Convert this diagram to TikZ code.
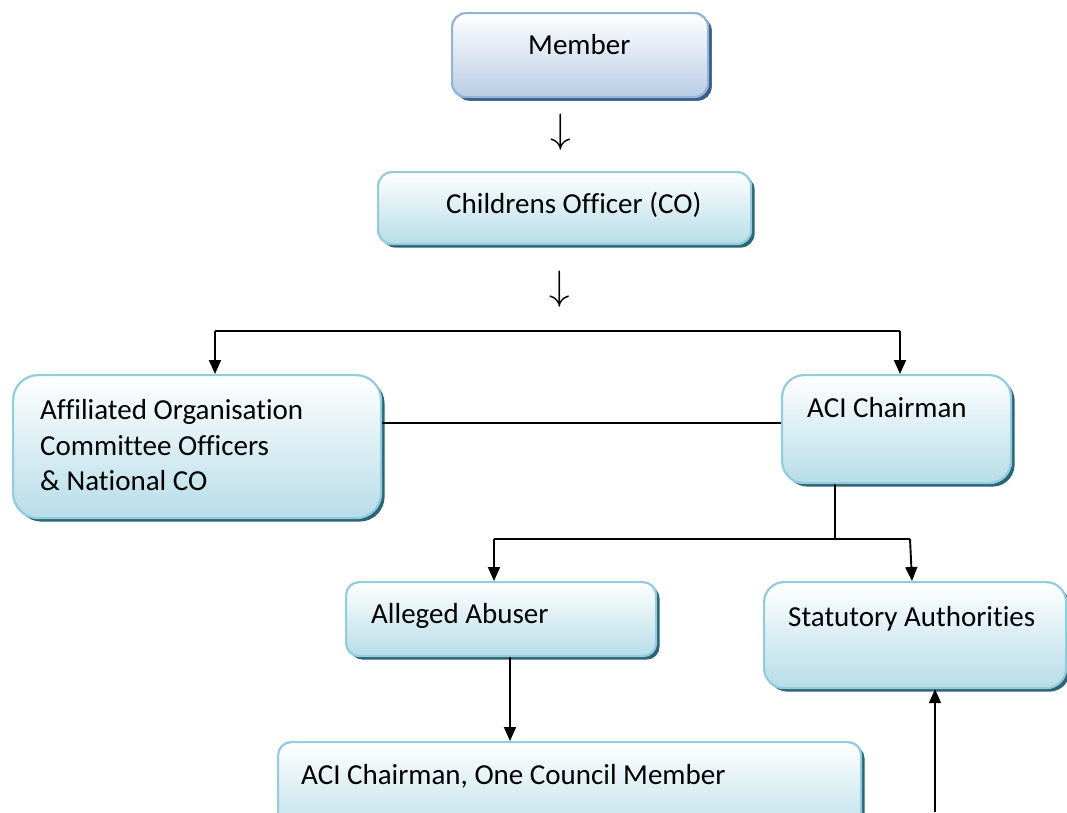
\documentclass[tikz,border=0pt]{standalone}
\usepackage{fontspec}
\setmainfont{Carlito}[Ligatures=NoCommon]
\usetikzlibrary{arrows.meta,shadows,calc}
\definecolor{bluB}{HTML}{95B3D7}
\definecolor{bluF}{HTML}{B9CDE5}
\definecolor{bluS}{HTML}{385D8A}
\definecolor{aqB}{HTML}{93CDDD}
\definecolor{aqF}{HTML}{B7DDE8}
\definecolor{aqS}{HTML}{2B6576}
\begin{document}
\begin{tikzpicture}[x=1pt,y=-1pt,
  box/.style={draw=aqB, line width=2.2pt, top color=white, bottom color=aqF,
    anchor=north west, inner sep=0pt,
    drop shadow={shadow xshift=3.5pt,shadow yshift=-3.5pt,fill=aqS,opacity=1}},
  bbox/.style={box, draw=bluB, bottom color=bluF,
    drop shadow={shadow xshift=3.5pt,shadow yshift=-3.5pt,fill=bluS,opacity=1}},
  txt/.style={anchor=base west, inner sep=0pt, font=\fontsize{29}{35}\selectfont},
  ln/.style={line width=1.9pt},
  arr/.style={ln, -{Triangle[width=12pt,length=14pt]}},
  darr/.style={inner sep=0pt, font=\fontsize{24.88}{26}\selectfont, scale=1.65, transform shape}]
\clip (0,0) rectangle (1067,812);
\fill[white] (0,0) rectangle (1067,812);
% boxes
\node[bbox, rounded corners=14pt, minimum width=256pt, minimum height=84pt] (mem) at (451,12) {};
\node[box, rounded corners=14pt, minimum width=373pt, minimum height=72pt] (co) at (377,171) {};
\node[box, rounded corners=25pt, minimum width=368pt, minimum height=143pt] (aff) at (12,374) {};
\node[box, rounded corners=22pt, minimum width=229pt, minimum height=108pt] (aci) at (781,374) {};
\node[box, rounded corners=13pt, minimum width=310pt, minimum height=74pt] (ab) at (345,581) {};
\node[box, rounded corners=20pt, minimum width=302pt, minimum height=106pt] (sa) at (763,581) {};
\node[box, rounded corners=13pt, minimum width=583pt, minimum height=100pt] (cm) at (277,741) {};
% texts
\node[txt] (tmem) at (528,54) {Member};
\node[txt] (tco) at (446,213) {Childrens Officer (CO)};
\node[txt] (taff1) at (40,419) {Affiliated Organisation};
\node[txt] (taff2) at (40,455) {Committee Officers};
\node[txt] (taff3) at (40,490) {\& National CO};
\node[txt] (taci) at (807,417) {ACI Chairman};
\node[txt] (tab) at (371,623) {Alleged Abuser};
\node[txt] (tsa) at (788,626) {Statutory Authorities};
\node[txt] (tcm) at (301,784) {ACI Chairman, One Council Member};
% glyph arrows
\node[darr] (d1) at (561,132) {$\downarrow$};
\node[darr] (d2) at (560,289) {$\downarrow$};
% connectors
\coordinate (jl) at (215,331);
\coordinate (jr) at (900,331);
\draw[ln] (jl) -- (jr);
\draw[arr] (jl) -- (jl |- aff.north);
\draw[arr] (jr) -- (jr |- aci.north);
\coordinate (h1) at (500,423);
\draw[ln] (h1 -| aff.east) -- (h1 -| aci.west);
\coordinate (v1) at (835,539);
\coordinate (jl2) at (494,539);
\coordinate (jr2) at (910,539);
\draw[ln] (v1 |- aci.south) -- (v1);
\draw[ln] (jl2) -- (jr2);
\draw[arr] (jl2) -- (jl2 |- ab.north);
\draw[arr] (jr2) -- (912,581);
\coordinate (ab1) at (510,655);
\draw[arr] (ab1 |- ab.south) -- (ab1 |- cm.north);
\coordinate (bot) at (935,812);
\draw[arr] (bot) -- (bot |- sa.south);
\end{tikzpicture}
\end{document}
